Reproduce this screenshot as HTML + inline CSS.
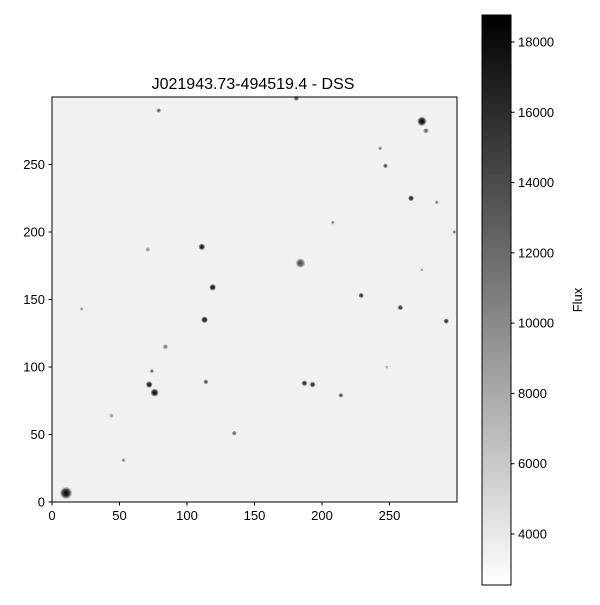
<!DOCTYPE html>
<html><head><meta charset="utf-8"><style>
body{margin:0;background:#fff;}
svg text{font-family:"Liberation Sans",sans-serif;fill:#000;}
</style></head><body>
<svg id="chart" width="600" height="600" xmlns="http://www.w3.org/2000/svg">
<defs>
<linearGradient id="cbar" x1="0" y1="1" x2="0" y2="0">
<stop offset="0" stop-color="#ffffff"/><stop offset="1" stop-color="#000000"/>
</linearGradient>
<radialGradient id="star"><stop offset="0" stop-color="#000" stop-opacity="1"/><stop offset="0.5" stop-color="#000" stop-opacity="0.8"/><stop offset="1" stop-color="#000" stop-opacity="0"/></radialGradient>
</defs>
<text x="253" y="89" font-size="16" text-anchor="middle">J021943.73-494519.4 - DSS</text>
<rect x="52" y="97" width="405" height="405" fill="#f1f1f1"/>
<g id="stars"></g>
<rect x="52" y="97" width="405" height="405" fill="none" stroke="#000" stroke-width="1"/>
<g id="xaxis"></g><g id="yaxis"></g>
<rect x="482" y="15" width="29" height="570" fill="url(#cbar)" stroke="#000" stroke-width="1"/>
<g id="caxis"></g>
<text x="582" y="300" font-size="13" text-anchor="middle" transform="rotate(-90 582 300)">Flux</text>
</svg>
<script>
const xTicks=[0,50,100,150,200,250];
const yTicks=[0,50,100,150,200,250];
const cTicks=[4000,6000,8000,10000,12000,14000,16000,18000];
const starX=[10.4,274,277,266,111,119,113,184,229,258,292,76,72,187,193,114,84,181,79,247,298,214,135,53,44,22,71,243,208,274,285,74,248];
const starY=[6.7,282,275,225,189,159,135,177,153,144,134,81,87,88,87,89,115,299,290,249,200,79,51,31,64,143,187,262,207,172,222,97,100];
const starR=[4.5,3.5,2,2.2,2.5,2.5,2.5,3.5,2,2,2,3,2.5,2.2,2.2,1.8,2,2,1.8,1.8,1.5,1.8,1.8,1.5,1.8,1.3,1.8,1.5,1.5,1.3,1.5,1.6,1.2];
const starA=[1,1,0.6,0.9,0.95,0.95,0.95,0.7,0.8,0.85,0.85,1,0.95,0.85,0.85,0.7,0.5,0.7,0.6,0.7,0.5,0.7,0.6,0.5,0.35,0.45,0.4,0.5,0.45,0.35,0.5,0.6,0.35];
const xs=v=>52+v*1.35, ys=v=>502-v*1.35, cs=v=>534-(v-4000)*0.035143;
const NS="http://www.w3.org/2000/svg";
function mk(t,a,p){const e=document.createElementNS(NS,t);for(const k in a)e.setAttribute(k,a[k]);p.appendChild(e);return e;}
const sg=document.getElementById('stars');
starX.forEach((x,i)=>{const c=mk('circle',{cx:xs(x),cy:ys(starY[i]),r:starR[i]*1.4,fill:'url(#star)','fill-opacity':starA[i]},sg);

});
const xg=document.getElementById('xaxis');
xTicks.forEach(v=>{mk('line',{x1:xs(v),x2:xs(v),y1:502,y2:505.5,stroke:'#000'},xg);
const t=mk('text',{x:xs(v),y:520,'font-size':13,'text-anchor':'middle'},xg);t.textContent=v;

});
const yg=document.getElementById('yaxis');
yTicks.forEach(v=>{mk('line',{x1:48.5,x2:52,y1:ys(v),y2:ys(v),stroke:'#000'},yg);
const t=mk('text',{x:45,y:ys(v)+4.5,'font-size':13,'text-anchor':'end'},yg);t.textContent=v;

});
const cg=document.getElementById('caxis');
cTicks.forEach(v=>{mk('line',{x1:511,x2:514.5,y1:cs(v),y2:cs(v),stroke:'#000'},cg);
const t=mk('text',{x:518,y:cs(v)+4.5,'font-size':13},cg);t.textContent=v;

});
</script>
</body></html>
